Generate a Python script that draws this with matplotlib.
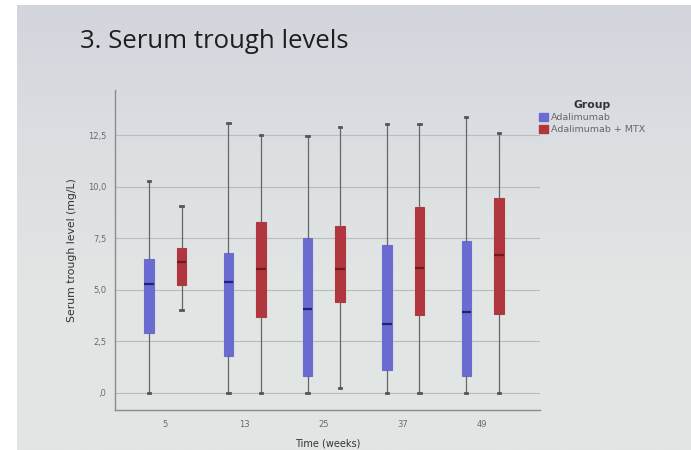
import numpy as np
import matplotlib
matplotlib.use("Agg")
import matplotlib.pyplot as plt
from matplotlib.patches import Patch
from matplotlib.colors import LinearSegmentedColormap

# Data (mg/L)
weeks = ["5", "13", "25", "37", "49"]
groups = ["Adalimumab", "Adalimumab + MTX"]

ada_low = [0.0, 0.0, 0.0, 0.0, 0.0]
ada_q1 = [2.9, 1.75, 0.8, 1.1, 0.8]
ada_med = [5.25, 5.35, 4.05, 3.35, 3.9]
ada_q3 = [6.5, 6.8, 7.5, 7.15, 7.35]
ada_high = [10.3, 13.1, 12.45, 13.05, 13.4]

mtx_low = [4.0, 0.0, 0.2, 0.0, 0.0]
mtx_q1 = [5.2, 3.65, 4.4, 3.75, 3.8]
mtx_med = [6.35, 6.0, 6.0, 6.05, 6.7]
mtx_q3 = [7.0, 8.3, 8.1, 9.0, 9.45]
mtx_high = [9.05, 12.5, 12.9, 13.05, 12.6]

yticks = [0, 2.5, 5.0, 7.5, 10.0, 12.5]
ytick_labels = [",0", "2,5", "5,0", "7,5", "10,0", "12,5"]

blue = "#6a6cd2"
red = "#b2363d"
blue_med = "#23236e"
red_med = "#6e1a20"


def make_stats(low, q1, med, q3, high):
    return [dict(whislo=a, q1=b, med=c, q3=d, whishi=e, fliers=[])
            for a, b, c, d, e in zip(low, q1, med, q3, high)]


fig = plt.figure(figsize=(6.91, 4.50), dpi=100)
fig.patch.set_facecolor("white")

# slide background (soft gradient like the projected photo)
bg = fig.add_axes([17 / 691, 0, 1 - 17 / 691, 1 - 5 / 450])
cmap = LinearSegmentedColormap.from_list(
    "slide", ["#d3d5dd", "#dcdfe2", "#e2e6e4", "#e1e5e4"])
grad = np.linspace(0, 1, 256).reshape(-1, 1)
bg.imshow(grad, aspect="auto", cmap=cmap, extent=[0, 1, 0, 1], origin="upper")
bg.axis("off")

fig.text(80 / 691, 1 - 42 / 450, "3. Serum trough levels", fontsize=18.5,
         family="Open Sans", color="#1e1e1e", va="center", ha="left")

ax = fig.add_axes([115 / 691, 40 / 450, 425 / 691, 320 / 450])
ax.set_facecolor("none")

pos = np.arange(len(weeks))
box_w = 0.12

for stats, offset, col, mcol in [
    (make_stats(ada_low, ada_q1, ada_med, ada_q3, ada_high), -0.2, blue, blue_med),
    (make_stats(mtx_low, mtx_q1, mtx_med, mtx_q3, mtx_high), 0.21, red, red_med),
]:
    ax.bxp(stats, positions=pos + offset, widths=box_w, patch_artist=True,
           showfliers=False, capwidths=0.03,
           boxprops=dict(facecolor=col, edgecolor=col, linewidth=0.8),
           medianprops=dict(color=mcol, linewidth=1.6),
           whiskerprops=dict(color="#666666", linewidth=0.9),
           capprops=dict(color="#555555", linewidth=2.0))

ax.set_xlim(-0.63, 4.73)
ax.set_ylim(-0.85, 14.7)
ax.set_xticks(pos)
ax.set_xticklabels(weeks)
ax.set_yticks(yticks)
ax.set_yticklabels(ytick_labels)
ax.tick_params(length=0, labelsize=6, colors="#6a6a6a", pad=6)
ax.tick_params(axis="x", pad=7)
ax.yaxis.grid(True, color="#b9bcbc", linewidth=0.8)
ax.set_axisbelow(True)
for s in ["top", "right"]:
    ax.spines[s].set_visible(False)
for s in ["left", "bottom"]:
    ax.spines[s].set_color("#8a8d8d")
    ax.spines[s].set_linewidth(1.0)

ax.set_ylabel("Serum trough level (mg/L)", fontsize=7.8, color="#333333", labelpad=8)
ax.set_xlabel("Time (weeks)", fontsize=7, color="#333333", labelpad=7)

handles = [Patch(facecolor=blue, edgecolor=blue), Patch(facecolor=red, edgecolor=red)]
leg = fig.legend(handles, groups, title="Group", loc="upper left",
                 bbox_to_anchor=(530 / 691, 1 - 92 / 450), frameon=False,
                 fontsize=6.8, title_fontsize=7.8, handlelength=1.0,
                 handleheight=1.0, handletextpad=0.3, labelspacing=0.25)
leg.get_title().set_fontweight("bold")
leg.get_title().set_color("#333333")
for t in leg.get_texts():
    t.set_color("#666666")

fig.savefig("out.png", dpi=100)
